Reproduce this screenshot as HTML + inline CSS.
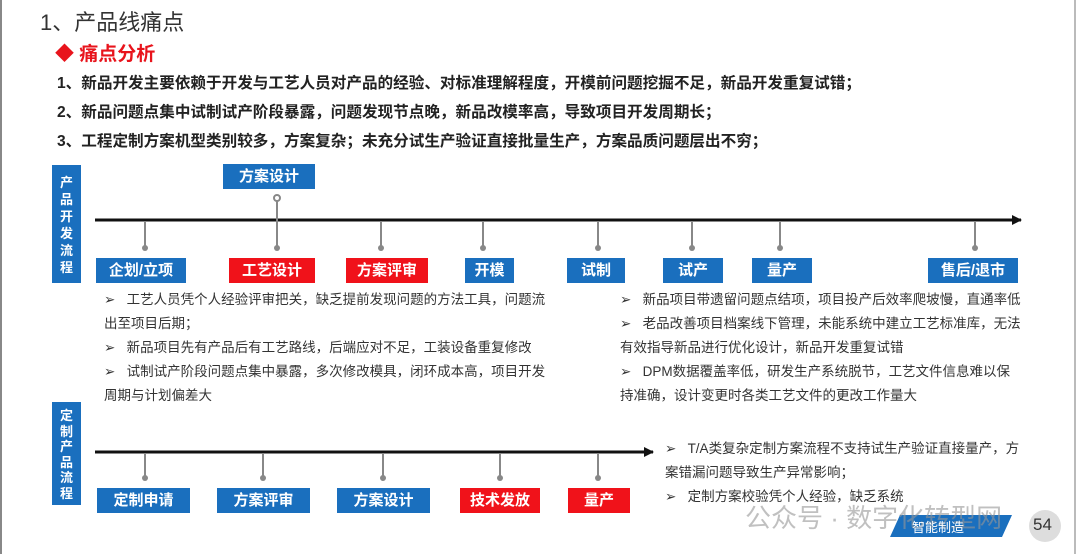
<!DOCTYPE html>
<html><head><meta charset="utf-8"><style>
*{margin:0;padding:0;box-sizing:border-box}
body{width:1080px;height:554px;background:#fff;position:relative;overflow:hidden;font-family:"Liberation Sans","Noto Sans CJK SC",sans-serif;color:#222}
.a{position:absolute;white-space:nowrap}
.b{position:absolute;color:#fff;font-weight:bold;font-size:15px;text-align:center;line-height:25px;height:25px;background:#1a6fbe}
.r{background:#f0121a}
.v{position:absolute;background:#1a6fbe;color:#fff;font-weight:bold;font-size:13px;width:29px;text-align:center}
.t{position:absolute;font-size:13.5px;line-height:24px;color:#333}
.l{font-weight:bold;font-size:15.6px;left:57px}
</style></head><body>
<div class="a" style="left:0;top:0;width:2px;height:554px;background:#888"></div>
<div class="a" style="left:1074px;top:0;width:2px;height:554px;background:#bbb"></div>
<div class="a" style="left:40px;top:5px;font-size:22px;color:#333">1、产品线痛点</div>
<div class="a" style="left:55px;top:39px;font-size:19px;color:#e8141c;font-weight:bold">◆ 痛点分析</div>
<div class="a l" style="top:71px">1、新品开发主要依赖于开发与工艺人员对产品的经验、对标准理解程度，开模前问题挖掘不足，新品开发重复试错；</div>
<div class="a l" style="top:100px">2、新品问题点集中试制试产阶段暴露，问题发现节点晚，新品改模率高，导致项目开发周期长；</div>
<div class="a l" style="top:129px">3、工程定制方案机型类别较多，方案复杂；未充分试生产验证直接批量生产，方案品质问题层出不穷；</div>

<div class="v" style="left:52px;top:165px;height:118px;padding-top:9px;line-height:17px">产<br>品<br>开<br>发<br>流<br>程</div>
<div class="v" style="left:52px;top:402px;height:103px;padding-top:6px;line-height:15.5px">定<br>制<br>产<br>品<br>流<br>程</div>

<svg class="a" style="left:0;top:0" width="1080" height="554">
<defs><marker id="m" markerWidth="10" markerHeight="10" refX="9" refY="5" orient="auto" markerUnits="userSpaceOnUse"><path d="M0,0 L10,5 L0,10 Z" fill="#111"/></marker></defs>
<line x1="95" y1="220" x2="1021" y2="220" stroke="#111" stroke-width="3" marker-end="url(#m)"/>
<line x1="95" y1="452" x2="653" y2="452" stroke="#111" stroke-width="3" marker-end="url(#m)"/>
<g stroke="#888" stroke-width="2" fill="#fff">
<line x1="277" y1="198" x2="277" y2="247"/><circle cx="277" cy="198" r="3"/>
<line x1="145" y1="221" x2="145" y2="247"/><line x1="381" y1="221" x2="381" y2="247"/><line x1="483" y1="221" x2="483" y2="247"/><line x1="598" y1="221" x2="598" y2="247"/><line x1="692" y1="221" x2="692" y2="247"/><line x1="780" y1="221" x2="780" y2="247"/><line x1="975" y1="221" x2="975" y2="247"/>
<line x1="145" y1="453" x2="145" y2="477"/><line x1="263" y1="453" x2="263" y2="477"/><line x1="383" y1="453" x2="383" y2="477"/><line x1="500" y1="453" x2="500" y2="477"/><line x1="598" y1="453" x2="598" y2="477"/>
</g>
<g fill="#888">
<circle cx="145" cy="248" r="3"/><circle cx="277" cy="248" r="3"/><circle cx="381" cy="248" r="3"/><circle cx="483" cy="248" r="3"/><circle cx="598" cy="248" r="3"/><circle cx="692" cy="248" r="3"/><circle cx="780" cy="248" r="3"/><circle cx="975" cy="248" r="3"/>
<circle cx="145" cy="478" r="3"/><circle cx="263" cy="478" r="3"/><circle cx="383" cy="478" r="3"/><circle cx="500" cy="478" r="3"/><circle cx="598" cy="478" r="3"/>
</g>
<polygon points="900,515 1012,515 1002,537 890,537" fill="#1a6fbe"/>
<circle cx="1045" cy="526" r="16" fill="#ddd"/>
</svg>

<div class="b" style="left:223px;top:164px;width:92px">方案设计</div>
<div class="b" style="left:96px;top:258px;width:90px">企划/立项</div>
<div class="b r" style="left:229px;top:258px;width:86px">工艺设计</div>
<div class="b r" style="left:346px;top:258px;width:82px">方案评审</div>
<div class="b" style="left:465px;top:258px;width:49px">开模</div>
<div class="b" style="left:567px;top:258px;width:58px">试制</div>
<div class="b" style="left:663px;top:258px;width:60px">试产</div>
<div class="b" style="left:752px;top:258px;width:60px">量产</div>
<div class="b" style="left:928px;top:258px;width:90px">售后/退市</div>

<div class="b" style="left:97px;top:488px;width:93px">定制申请</div>
<div class="b" style="left:217px;top:488px;width:93px">方案评审</div>
<div class="b" style="left:337px;top:488px;width:93px">方案设计</div>
<div class="b r" style="left:460px;top:488px;width:80px">技术发放</div>
<div class="b r" style="left:568px;top:488px;width:62px">量产</div>

<div class="t" style="left:104px;top:288px;width:450px">➢&nbsp;&nbsp;&nbsp;工艺人员凭个人经验评审把关，缺乏提前发现问题的方法工具，问题流<br>出至项目后期；<br>➢&nbsp;&nbsp;&nbsp;新品项目先有产品后有工艺路线，后端应对不足，工装设备重复修改<br>➢&nbsp;&nbsp;&nbsp;试制试产阶段问题点集中暴露，多次修改模具，闭环成本高，项目开发<br>周期与计划偏差大</div>
<div class="t" style="left:620px;top:288px;width:430px">➢&nbsp;&nbsp;&nbsp;新品项目带遗留问题点结项，项目投产后效率爬坡慢，直通率低<br>➢&nbsp;&nbsp;&nbsp;老品改善项目档案线下管理，未能系统中建立工艺标准库，无法<br>有效指导新品进行优化设计，新品开发重复试错<br>➢&nbsp;&nbsp;&nbsp;DPM数据覆盖率低，研发生产系统脱节，工艺文件信息难以保<br>持准确，设计变更时各类工艺文件的更改工作量大</div>
<div class="t" style="left:665px;top:437px;width:400px">➢&nbsp;&nbsp;&nbsp;T/A类复杂定制方案流程不支持试生产验证直接量产，方<br>案错漏问题导致生产异常影响；<br>➢&nbsp;&nbsp;&nbsp;定制方案校验凭个人经验，缺乏系统</div>
<div class="a" style="left:745px;top:498px;font-size:26px;color:rgba(150,150,150,0.6)">公众号 · 数字化转型网</div>
<div class="a" style="left:912px;top:517px;font-size:13px;color:#fff">智能制造</div>
<div class="a" style="left:1033px;top:515px;font-size:17px;color:#333">54</div>
</body></html>
